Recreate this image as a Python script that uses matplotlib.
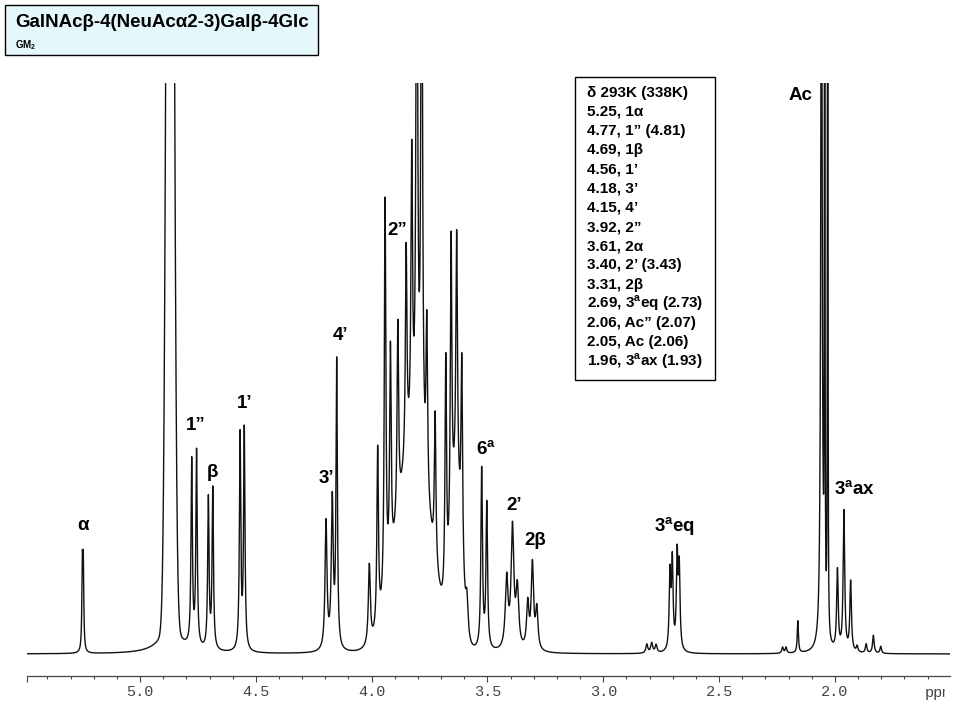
import numpy as np
import matplotlib.pyplot as plt
from matplotlib.patches import Rectangle
from matplotlib.ticker import FixedLocator, MultipleLocator
from matplotlib.transforms import Bbox, TransformedBbox

plt.rcParams['font.family'] = ['Liberation Sans', 'DejaVu Sans']
plt.rcParams['mathtext.fontset'] = 'custom'
plt.rcParams['mathtext.rm'] = 'Liberation Sans'
plt.rcParams['mathtext.bf'] = 'Liberation Sans:bold'

# sharp lines of the 1H spectrum: position (ppm), height, half width (ppm)
line_ppm = [4.870,
            5.249, 5.245,
            4.777, 4.756, 4.705, 4.686, 4.568, 4.550,
            4.197, 4.170, 4.151,
            4.010, 3.974, 3.942, 3.919, 3.887, 3.851, 3.827, 3.805, 3.784,
            3.762, 3.726, 3.680, 3.657, 3.633, 3.611, 3.589,
            3.525, 3.503,
            3.417, 3.392, 3.371, 3.326, 3.306, 3.287,
            2.812, 2.791, 2.772,
            2.712, 2.702, 2.681, 2.672,
            2.226, 2.211, 2.160,
            2.058, 2.044, 2.031,
            1.989, 1.961, 1.932,
            1.904, 1.865, 1.834, 1.802]
line_height = [28,
               80, 80,
               185, 195, 150, 160, 215, 220,
               128, 148, 285,
               80, 180, 400, 220, 195, 210, 280, 650, 650,
               170, 150, 240, 300, 250, 200, 35,
               180, 145,
               70, 120, 58, 45, 85, 40,
               9, 10, 8,
               75, 87, 92, 80,
               6, 6, 32,
               800, 2000, 2000,
               80, 140, 70,
               6, 9, 18, 7]
line_width = [0.05,
              0.0025, 0.0025,
              0.0035, 0.0035, 0.0035, 0.0035, 0.0035, 0.0035,
              0.005, 0.005, 0.0035,
              0.005, 0.004, 0.004, 0.004, 0.004, 0.004, 0.004, 0.004, 0.004,
              0.004, 0.004, 0.004, 0.004, 0.004, 0.004, 0.006,
              0.004, 0.004,
              0.007, 0.007, 0.007, 0.006, 0.006, 0.006,
              0.005, 0.005, 0.005,
              0.004, 0.004, 0.004, 0.004,
              0.004, 0.004, 0.003,
              0.0035, 0.0008, 0.0008,
              0.004, 0.004, 0.004,
              0.004, 0.004, 0.004, 0.004]

# broad parts: HDO core and the unresolved ring-proton envelope
hump_ppm = [4.870, 3.820, 3.635]
hump_height = [1700, 200, 150]
hump_sigma = [0.013, 0.070, 0.022]

peak_labels = ['α', '1”', 'β', '1’', '3’', '4’', '2”', '6$^\\mathbf{a}$',
               '2’', '2β', '3$^\\mathbf{a}$eq', 'Ac', '3$^\\mathbf{a}$ax']
label_pos = [(5.247, 124), (4.758, 224), (4.689, 177), (4.547, 246),
             (4.197, 171), (4.136, 314), (3.890, 419), (3.506, 199),
             (3.385, 144), (3.294, 109), (2.694, 122), (2.150, 554),
             (1.913, 159)]

shift_table = ['δ 293K (338K)', '5.25, 1α', '4.77, 1” (4.81)', '4.69, 1β',
               '4.56, 1’', '4.18, 3’', '4.15, 4’', '3.92, 2”', '3.61, 2α',
               '3.40, 2’ (3.43)', '3.31, 2β', '2.69, 3$^\\mathbf{a}$eq (2.73)',
               '2.06, Ac” (2.07)', '2.05, Ac (2.06)',
               '1.96, 3$^\\mathbf{a}$ax (1.93)']

xticks = [5.0, 4.5, 4.0, 3.5, 3.0, 2.5, 2.0]
x_left, x_right = 5.488, 1.503

title = 'GalNAcβ-4(NeuAcα2-3)Galβ-4Glc'
subtitle = 'GM$_\\mathbf{2}$'

# build the spectrum
ppm = np.linspace(x_left, x_right, 40000)
spec = np.zeros_like(ppm)
for p, h, w in zip(line_ppm, line_height, line_width):
    spec += h * w**2 / (w**2 + (ppm - p)**2)
for p, h, s in zip(hump_ppm, hump_height, hump_sigma):
    spec += h * np.exp(-(ppm - p)**2 / (2 * s**2))

W, H = 960, 720


def fx(x):
    return x / W


def fy(y):
    return 1 - y / H


fig = plt.figure(figsize=(9.6, 7.2), dpi=100)
ax = fig.add_axes([fx(27), fy(676), fx(950) - fx(27), fy(83) - fy(676)])
ax.plot(ppm, spec, color='#111111', lw=1.0)
ax.set_xlim(x_left, x_right)
ax.set_ylim(-22, 571)

for s in ['top', 'left', 'right']:
    ax.spines[s].set_visible(False)
ax.spines['bottom'].set_color('#444444')
ax.spines['bottom'].set_linewidth(0.9)
ax.yaxis.set_visible(False)

ax.xaxis.set_major_locator(FixedLocator([x_left] + xticks))
ax.set_xticklabels([''] + ['%.1f' % t for t in xticks],
                   fontfamily='Liberation Mono', fontsize=11, color='#444444')
ax.xaxis.set_minor_locator(MultipleLocator(0.1))
ax.tick_params(axis='x', which='major', direction='out', length=4.3,
               width=0.8, color='#444444', pad=2.5)
ax.tick_params(axis='x', which='minor', direction='out', length=2,
               width=0.8, color='#444444')

# axis unit, cut at the right edge as in the scan
ppm_txt = fig.text(fx(925), fy(693), 'ppm', va='center', ha='left',
                   fontfamily='Liberation Mono', fontsize=11, color='#444444')
ppm_txt.set_clip_box(TransformedBbox(Bbox([[0, 0], [fx(945), 1]]),
                                     fig.transFigure))
ppm_txt.set_clip_on(True)

# peak assignments
for lab, (p, h) in zip(peak_labels, label_pos):
    ax.text(p, h, lab, ha='center', va='baseline', fontsize=13.5,
            fontweight='bold', clip_on=False)

# chemical shift table
fig.add_artist(Rectangle((fx(575), fy(380)), fx(715) - fx(575),
                         fy(77) - fy(380), transform=fig.transFigure,
                         facecolor='white', edgecolor='black', lw=1.0))
for i, row in enumerate(shift_table):
    fig.text(fx(587), fy(96.7 + 19.2 * i), row, ha='left', va='baseline',
             fontsize=11, fontweight='bold')

# title box
fig.add_artist(Rectangle((fx(5), fy(55)), fx(318) - fx(5), fy(5) - fy(55),
                         transform=fig.transFigure, facecolor='#E4F7FB',
                         edgecolor='black', lw=1.0))
fig.text(fx(15), fy(26.7), title, ha='left', va='baseline', fontsize=13.5,
         fontweight='bold')
fig.text(fx(15), fy(48), subtitle, ha='left', va='baseline', fontsize=7,
         fontweight='bold')

fig.savefig('out.png', dpi=100, facecolor='white')
